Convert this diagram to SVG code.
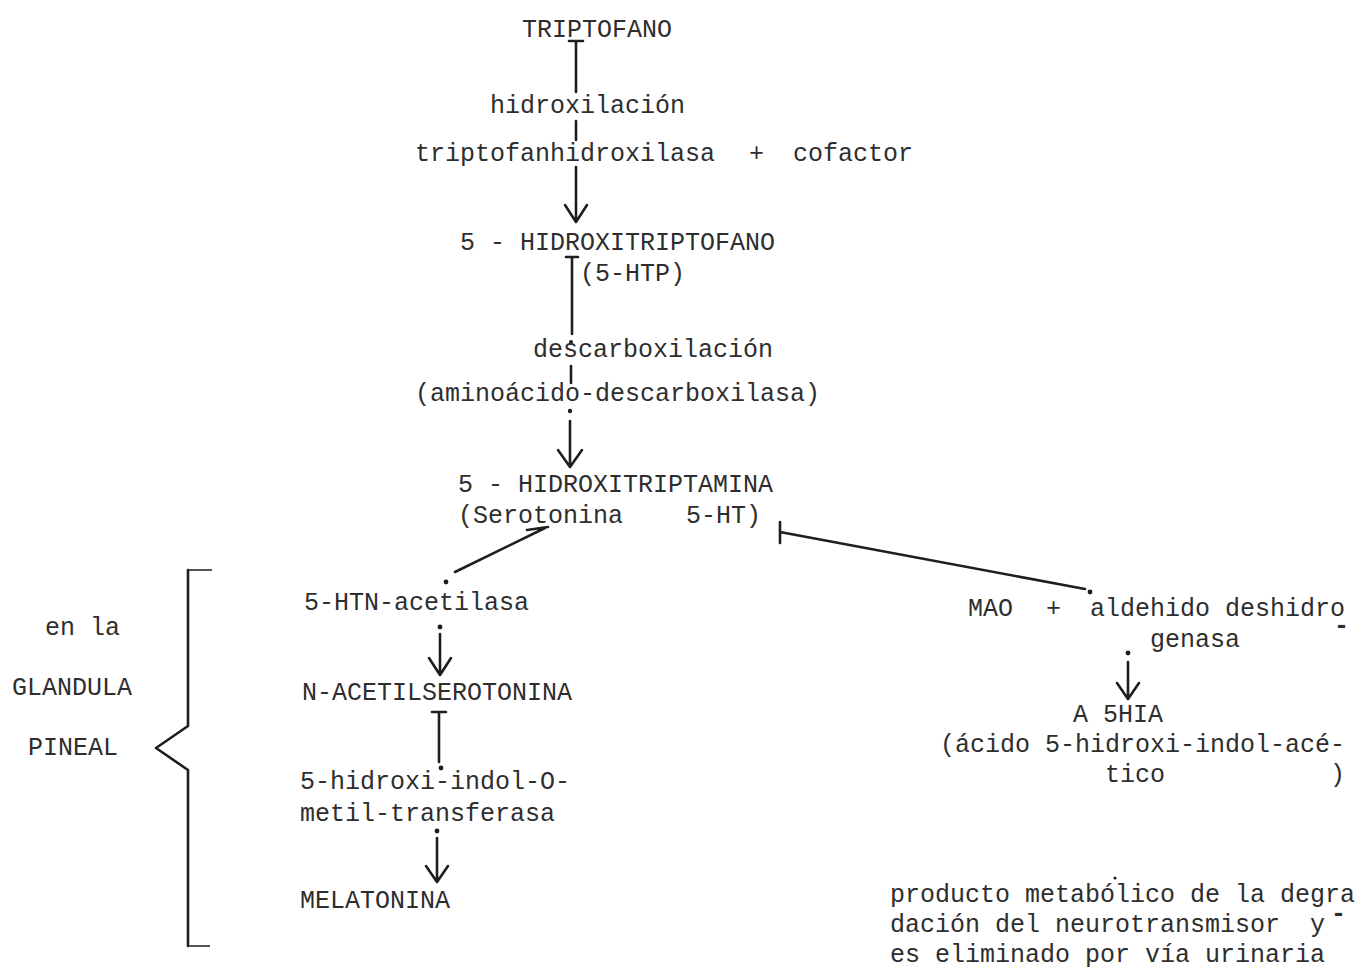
<svg xmlns="http://www.w3.org/2000/svg" width="1356" height="968" viewBox="0 0 1356 968">
<style>
text{font-family:"Liberation Mono","DejaVu Sans Mono",monospace;font-size:25px;fill:#2e2e2e;white-space:pre}
.hy{font-weight:bold}
.ln{stroke:#1e1e1e;stroke-width:2.6;fill:none;stroke-linecap:round;stroke-linejoin:round}
.thin{stroke:#1e1e1e;stroke-width:1.6;fill:none}
.dot{fill:#1e1e1e}
</style>
<rect width="1356" height="968" fill="#ffffff"/>
<g id="connectors">
  <!-- triptofano -> 5-HTP -->
  <path class="ln" d="M569,41 H583 M576,41 V92 M576,121 V140 M576,167 V220 M565,205 L576,222 L587,205"/>
  <!-- 5-HTP -> 5-HT -->
  <path class="ln" d="M566,257 H578 M572,257 V334 M571,366 V383 M570,421 V465 M558,450 L570,467 L582,450"/>
  <circle class="dot" cx="571" cy="342" r="2"/>
  <circle class="dot" cx="570" cy="411" r="2.2"/>
  <!-- serotonina -> acetilasa -->
  <path class="ln" d="M455,572 L545,528 M527,530 L548,527"/>
  <circle class="dot" cx="446" cy="582" r="2.4"/>
  <!-- acetilasa -> N-acetilserotonina -->
  <circle class="dot" cx="440" cy="627" r="2.4"/>
  <path class="ln" d="M440,634 V673 M429,658 L440,675 L451,658"/>
  <!-- N-acetilserotonina -> melatonina -->
  <path class="ln" d="M432,712 H446 M439,712 V762"/>
  <circle class="dot" cx="441" cy="768" r="2.4"/>
  <circle class="dot" cx="437" cy="831" r="2.4"/>
  <path class="ln" d="M437,838 V880 M426,866 L437,882 L448,866"/>
  <!-- MAO -> serotonina -->
  <path class="ln" d="M780,522 V543 M780,532 L1085,589"/>
  <circle class="dot" cx="1090" cy="592" r="2.4"/>
  <!-- MAO -> A 5HIA -->
  <circle class="dot" cx="1128" cy="653" r="2.4"/>
  <path class="ln" d="M1128,662 V697 M1117,683 L1128,699 L1139,683"/>
  <circle class="dot" cx="1115" cy="878" r="1.6"/>
</g>
<g id="brace">
  <path class="ln" d="M188,570 V726 L156,748 L188,770 V946"/>
  <path class="thin" d="M188,570 H212 M188,946 H210"/>
</g>
<g id="triptofano"><text x="522" y="37">TRIPTOFANO</text></g>
<g id="hidroxilacion">
  <text x="490" y="113">hidroxilación</text>
  <text x="415" y="161">triptofanhidroxilasa</text>
  <text x="749" y="161">+</text>
  <text x="793" y="161">cofactor</text>
</g>
<g id="htp">
  <text x="460" y="250">5 - HIDROXITRIPTOFANO</text>
  <text x="580" y="281">(5-HTP)</text>
</g>
<g id="descarboxilacion">
  <text x="533" y="357">descarboxilación</text>
  <text x="415" y="401">(aminoácido-descarboxilasa)</text>
</g>
<g id="serotonina">
  <text x="458" y="492">5 - HIDROXITRIPTAMINA</text>
  <text x="458" y="523">(Serotonina<tspan x="686">5-HT)</tspan></text>
</g>
<g id="pineal-label">
  <text x="45" y="635">en la</text>
  <text x="12" y="695">GLANDULA</text>
  <text x="28" y="755">PINEAL</text>
</g>
<g id="acetilasa"><text x="304" y="610">5-HTN-acetilasa</text></g>
<g id="n-acetilserotonina"><text x="302" y="700">N-ACETILSEROTONINA</text></g>
<g id="transferasa">
  <text x="300" y="789">5-hidroxi-indol-O-</text>
  <text x="300" y="821">metil-transferasa</text>
</g>
<g id="melatonina"><text x="300" y="908">MELATONINA</text></g>
<g id="mao">
  <text x="968" y="616">MAO<tspan x="1046">+</tspan><tspan x="1090">aldehido deshidro</tspan></text>
  <text class="hy" x="1334" y="633">-</text>
  <text x="1150" y="647">genasa</text>
</g>
<g id="a5hia">
  <text x="1073" y="722">A 5HIA</text>
  <text x="940" y="752">(ácido 5-hidroxi-indol-acé-</text>
  <text x="1105" y="782">tico<tspan x="1330">)</tspan></text>
</g>
<g id="nota">
  <text x="890" y="902">producto metabólico de la degra</text>
  <text class="hy" x="1331" y="921">-</text>
  <text x="890" y="932">dación del neurotransmisor  y</text>
  <text x="890" y="962">es eliminado por vía urinaria</text>
</g>
</svg>
